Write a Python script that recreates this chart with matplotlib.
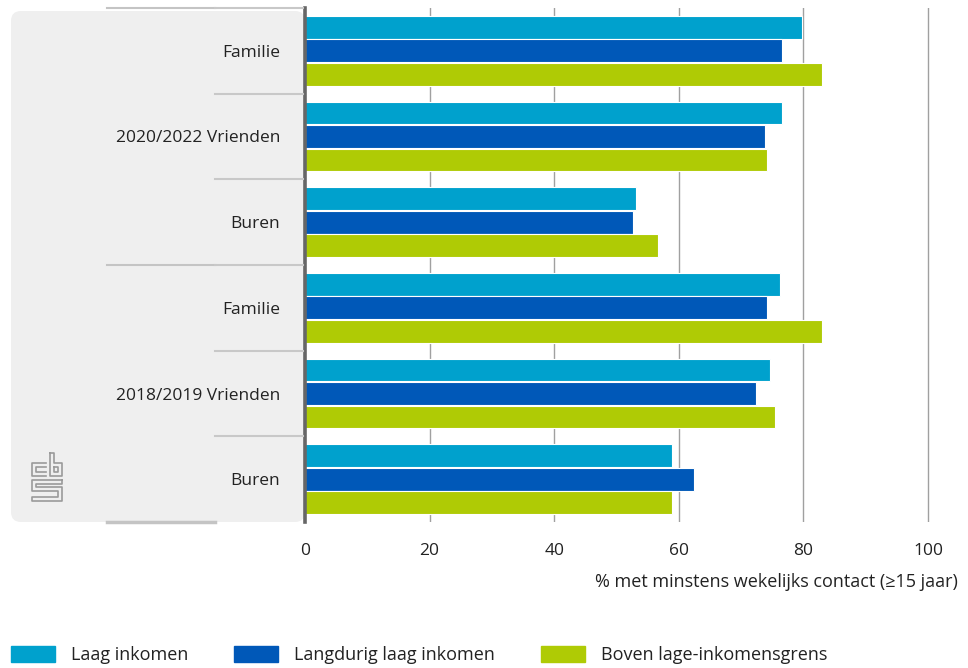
import matplotlib
matplotlib.use('Agg')
import matplotlib.pyplot as plt
import numpy as np
from matplotlib.patches import FancyBboxPatch, Patch
from matplotlib.lines import Line2D
from matplotlib.transforms import blended_transform_factory

plt.rcParams['font.family'] = ['Open Sans', 'DejaVu Sans']
FS = 13

# data (top to bottom)
periodes = ['2020/2022', '2018/2019']
contacten = ['Familie', 'Vrienden', 'Buren']
reeksen = ['Laag inkomen', 'Langdurig laag inkomen', 'Boven lage-inkomensgrens']
laag = [79.8, 76.6, 53.1, 76.2, 74.6, 58.9]
langdurig = [76.6, 73.8, 52.6, 74.2, 72.4, 62.4]
boven = [83.0, 74.2, 56.7, 83.0, 75.4, 58.9]
kleuren = ['#00a1cd', '#0058b8', '#afcb05']
xticks = [0, 20, 40, 60, 80, 100]

W, H = 968, 668
fig = plt.figure(figsize=(W / 100, H / 100), dpi=100)

# grey label panel
panel = FancyBboxPatch((11 / 100, (H - 522) / 100), (305 - 11) / 100, (522 - 11) / 100,
                       boxstyle='round,pad=0,rounding_size=0.1',
                       transform=fig.dpi_scale_trans, fc='#efefef', ec='none', zorder=-1)
fig.patches.append(panel)

ax = fig.add_axes([305 / W, 1 - 522 / H, 653 / W, 514 / H])
ax.patch.set_alpha(0)

n = len(laag)
y = np.arange(n)
h = 0.265
for i, (vals, kl) in enumerate(zip([laag, langdurig, boven], kleuren)):
    ax.barh(y + (i - 1) * 0.275, vals, height=h, color=kl, edgecolor='white',
            linewidth=0.8, zorder=3)

ax.set_xlim(0, 100 * 653 / 623)
ax.set_ylim(n - 0.5, -0.5)
for x in xticks[1:]:
    ax.axvline(x, color='#a0a0a0', lw=1, zorder=1)

for s in ['top', 'right', 'bottom']:
    ax.spines[s].set_visible(False)
ax.spines['left'].set_color('#666666')
ax.spines['left'].set_linewidth(2.6)
ax.spines['left'].set_zorder(4)

labels = []
for p in periodes:
    for j, c in enumerate(contacten):
        labels.append(p + ' ' + c if j == 1 else c)
ax.set_yticks(y)
ax.set_yticklabels(labels)
ax.set_xticks(xticks)
ax.tick_params(axis='both', length=0, labelsize=12.5, colors='#222222')
ax.tick_params(axis='y', pad=18)
ax.tick_params(axis='x', pad=15)

# separator lines in label area
tr = blended_transform_factory(fig.transFigure, ax.transData)
for k in range(n + 1):
    yy = k - 0.5
    if k % 3 == 0:
        lw = 2.5 if k == n else 1.5
        fig.add_artist(Line2D([107 / W, 215 / W], [yy, yy], transform=tr,
                              color='#c4c4c4', lw=lw, zorder=2))
    if k < n:
        fig.add_artist(Line2D([215 / W, 303 / W], [yy, yy], transform=tr,
                              color='#c8c8c8', lw=1.5, zorder=2))

fig.text(958 / W, 1 - 582 / H, '% met minstens wekelijks contact (\u226515 jaar)',
         ha='right', va='center', fontsize=FS, color='#222222')

# cbs logo (rough)
def px(pts):
    return [p[0] / W for p in pts], [1 - p[1] / H for p in pts]

logo = [
    [(46, 463), (32, 463), (32, 476), (46, 476)],
    [(46, 467), (36, 467), (36, 472), (46, 472)],
    [(50, 453), (50, 476), (62, 476), (62, 463), (54, 463), (54, 453), (50, 453)],
    [(54, 467), (58, 467), (58, 472), (54, 472), (54, 467)],
    [(62, 480), (32, 480), (32, 491), (58, 491), (58, 497), (32, 497), (32, 501), (62, 501),
     (62, 487), (36, 487), (36, 484), (62, 484), (62, 480)],
]
for pts in logo:
    xs, ys = px(pts)
    fig.add_artist(Line2D(xs, ys, transform=fig.transFigure, color='#9a9a9a', lw=1.2))

handles = [Patch(color=k, label=r) for k, r in zip(kleuren, reeksen)]
fig.legend(handles=handles, loc='center left', bbox_to_anchor=(11 / W, 1 - 655 / H),
           ncol=3, frameon=False, fontsize=FS, handlelength=2.45, handleheight=0.95,
           handletextpad=0.9, columnspacing=2.5, borderpad=0, borderaxespad=0,
           labelcolor='#222222')

fig.savefig('out.png', dpi=100)
